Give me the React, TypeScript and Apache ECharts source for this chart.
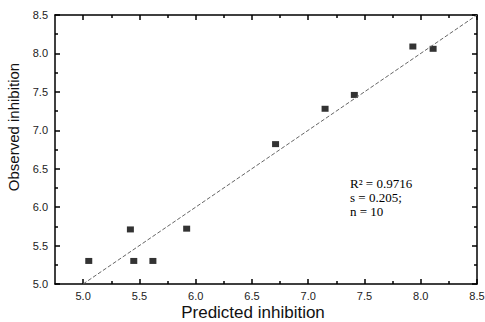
import React, { useEffect, useRef } from "react";
import * as echarts from "echarts";

const predicted = [5.05, 5.42, 5.45, 5.62, 5.92, 6.71, 7.15, 7.41, 7.93, 8.11];
const observed = [5.3, 5.71, 5.3, 5.3, 5.72, 6.82, 7.28, 7.46, 8.09, 8.06];
const fitLine = [
  [5.0, 5.0],
  [8.5, 8.5],
];
const xRange = [4.75, 8.5];
const yRange = [5.0, 8.5];
const majorTicks = [5.0, 5.5, 6.0, 6.5, 7.0, 7.5, 8.0, 8.5];
const minorTicks = [5.25, 5.75, 6.25, 6.75, 7.25, 7.75, 8.25];
const statsLines = ["R² = 0.9716", "s = 0.205;", "n = 10"];
const xTitle = "Predicted inhibition";
const yTitle = "Observed inhibition";

const labelStyle = {
  fontFamily: "Liberation Sans, Arial, sans-serif",
  fontSize: 11,
  color: "#222",
};

function makeAxis(
  kind: "x" | "y",
  position: string,
  ticks: number[],
  len: number,
  withLabel: boolean,
  withLine: boolean
) {
  const range = kind === "x" ? xRange : yRange;
  return {
    type: "value",
    position,
    offset: 0,
    min: range[0],
    max: range[1],
    interval: 0.25,
    splitLine: { show: false },
    axisLine: {
      show: withLine,
      onZero: false,
      lineStyle: { color: "#000", width: 1.5 },
    },
    axisTick: {
      show: true,
      inside: true,
      length: len,
      customValues: ticks,
      lineStyle: { color: "#000", width: 1.5 },
    },
    axisLabel: withLabel
      ? {
          show: true,
          customValues: majorTicks,
          margin: kind === "x" ? 6 : 7,
          formatter: (v: number) => v.toFixed(1),
          ...labelStyle,
        }
      : { show: false },
  };
}

export default function App() {
  const ref = useRef<HTMLDivElement>(null);
  useEffect(() => {
    document.body.style.margin = "0";
    if (!ref.current) return;
    const chart = echarts.init(ref.current, null, { renderer: "svg" });
    const option: any = {
      animation: false,
      backgroundColor: "#fff",
      grid: {
        left: 55,
        top: 15,
        right: 8,
        bottom: 38,
        containLabel: false,
        outerBoundsMode: "none",
      },
      xAxis: [
        makeAxis("x", "bottom", majorTicks, 5, true, true),
        makeAxis("x", "bottom", minorTicks, 3, false, false),
        makeAxis("x", "top", majorTicks, 5, false, true),
        makeAxis("x", "top", minorTicks, 3, false, false),
      ],
      yAxis: [
        makeAxis("y", "left", majorTicks, 5, true, true),
        makeAxis("y", "left", minorTicks, 3, false, false),
        makeAxis("y", "right", majorTicks, 5, false, true),
        makeAxis("y", "right", minorTicks, 3, false, false),
      ],
      series: [
        {
          type: "line",
          data: fitLine,
          xAxisIndex: 0,
          yAxisIndex: 0,
          symbol: "none",
          silent: true,
          lineStyle: { color: "#666", width: 1, type: [4, 2] },
        },
        {
          type: "scatter",
          data: predicted.map((p, i) => [p, observed[i]]),
          xAxisIndex: 0,
          yAxisIndex: 0,
          symbol: "rect",
          symbolSize: [7, 6],
          itemStyle: { color: "#000" },
        },
      ],
      graphic: [
        {
          type: "text",
          left: 350,
          top: 176,
          style: {
            text: statsLines.join("\n"),
            fontFamily: "Liberation Serif, Times New Roman, serif",
            fontSize: 13,
            lineHeight: 14,
            fill: "#000",
          },
        },
        {
          type: "text",
          x: 253,
          y: 312,
          style: {
            text: xTitle,
            fontFamily: "Liberation Sans, Arial, sans-serif",
            fontSize: 17,
            fill: "#111",
            align: "center",
            verticalAlign: "middle",
          },
        },
        {
          type: "text",
          x: 13,
          y: 127,
          rotation: Math.PI / 2,
          style: {
            text: yTitle,
            fontFamily: "Liberation Sans, Arial, sans-serif",
            fontSize: 15,
            fill: "#111",
            align: "center",
            verticalAlign: "middle",
          },
        },
      ],
    };
    chart.setOption(option);
    return () => chart.dispose();
  }, []);
  return <div ref={ref} style={{ width: 485, height: 322 }} />;
}
